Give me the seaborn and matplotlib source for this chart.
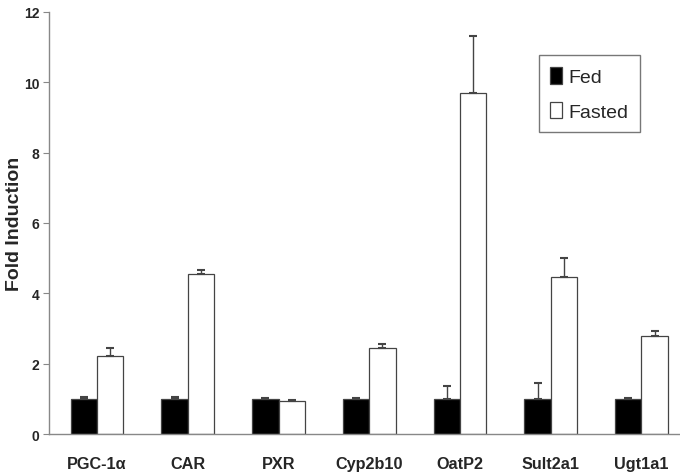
import numpy as np
import pandas as pd
import matplotlib
matplotlib.use("Agg")
import matplotlib.pyplot as plt
import seaborn as sns

genes = ["PGC-1\u03b1", "CAR", "PXR", "Cyp2b10", "OatP2", "Sult2a1", "Ugt1a1"]
fed_mean = [1.0, 1.0, 1.0, 1.0, 1.0, 1.0, 1.0]
fed_err = [0.05, 0.05, 0.03, 0.03, 0.36, 0.46, 0.03]
fasted_mean = [2.22, 4.55, 0.95, 2.45, 9.7, 4.45, 2.8]
fasted_err = [0.23, 0.1, 0.03, 0.1, 1.62, 0.56, 0.12]

df = pd.DataFrame({
    "gene": genes * 2,
    "group": ["Fed"] * len(genes) + ["Fasted"] * len(genes),
    "value": fed_mean + fasted_mean,
})

sns.set_style("white")
plt.rcParams["font.family"] = ["Liberation Sans", "DejaVu Sans"]

fig = plt.figure(figsize=(6.8, 4.77), dpi=100)
ax = fig.add_axes([0.072, 0.088, 0.93, 0.885])

sns.barplot(data=df, x="gene", y="value", hue="group",
            palette={"Fed": "black", "Fasted": "white"},
            width=0.58, gap=0, edgecolor="#444444", linewidth=0.9,
            errorbar=None, ax=ax)

# upward-only error bars
for cont, errs in zip(ax.containers, [fed_err, fasted_err]):
    xs = [p.get_x() + p.get_width() / 2 for p in cont.patches]
    hs = [p.get_height() for p in cont.patches]
    ax.errorbar(xs, hs, yerr=[np.zeros(len(errs)), errs], fmt="none",
                ecolor="#444444", elinewidth=1.0, capsize=3, capthick=1.5)

ax.set_ylim(0, 12)
ax.set_yticks(range(0, 13, 2))
ax.set_xlim(-0.53, 6.44)
ax.set_xlabel("")
ax.set_ylabel("Fold Induction", fontsize=14, fontweight="bold")
ax.yaxis.set_label_coords(-0.041, 0.5)

for lab in ax.get_yticklabels():
    lab.set_fontweight("bold")
    lab.set_fontsize(10)
for lab in ax.get_xticklabels():
    lab.set_fontweight("bold")
    lab.set_fontsize(11.7)

ax.tick_params(axis="y", length=4, color="#888888", direction="out", left=True, pad=3)
ax.tick_params(axis="x", length=0, pad=16)

sns.despine(ax=ax)
for s in ["left", "bottom"]:
    ax.spines[s].set_color("#888888")
    ax.spines[s].set_linewidth(1.0)

leg = ax.legend(loc="upper right", bbox_to_anchor=(0.934, 0.897), fontsize=14,
                handlelength=0.6, handleheight=0.95, handletextpad=0.3,
                frameon=True, fancybox=False, borderpad=0.6, labelspacing=0.8,
                borderaxespad=0)
leg.get_frame().set_edgecolor("#555555")
leg.get_frame().set_linewidth(1.0)

fig.savefig("out.png", dpi=100)
